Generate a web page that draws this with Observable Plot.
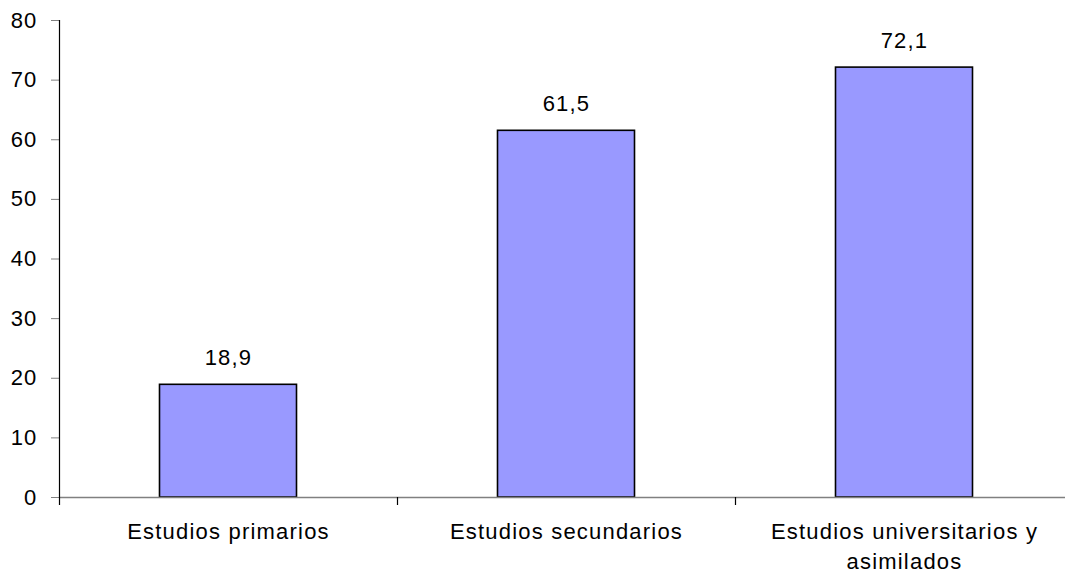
<!DOCTYPE html>
<html>
<head>
<meta charset="utf-8">
<script src="https://cdn.jsdelivr.net/npm/d3@7"></script>
<script src="https://cdn.jsdelivr.net/npm/@observablehq/plot@0.6"></script>
<style>
  html, body { margin: 0; padding: 0; background: #fff; overflow: hidden; }
  svg text { letter-spacing: 1.2px; }
</style>
</head>
<body>
<div id="chart"></div>
<script>
const categories = ["Estudios primarios", "Estudios secundarios", "Estudios universitarios y asimilados"];
const categoryLabels = ["Estudios primarios", "Estudios secundarios", "Estudios universitarios y\nasimilados"];
const values = [18.9, 61.5, 72.1];
const yTicks = [0, 10, 20, 30, 40, 50, 60, 70, 80];

const data = categories.map((c, i) => ({cat: c, label: categoryLabels[i], value: values[i]}));

const width = 1065, height = 574;
const xRange = [59, 1073];
const bw = (xRange[1] - xRange[0]) / categories.length;
const barInset = 100.5;

const chart = Plot.plot({
  width, height,
  marginLeft: 59, marginRight: 0, marginTop: 20, marginBottom: 77,
  style: {fontFamily: "Arial, 'Liberation Sans', sans-serif", fontSize: "22px", color: "#000", background: "#fff", overflow: "visible"},
  x: {type: "band", domain: categories, range: xRange, padding: 0, axis: null, label: null},
  y: {domain: [0, 80], axis: null, label: null},
  marks: [
    Plot.barY(data, {x: "cat", y: "value", fill: "#9999FF", stroke: "#000", strokeWidth: 1.6, insetLeft: barInset, insetRight: barInset}),
    Plot.ruleY([0], {stroke: "#808080", strokeWidth: 1.5}),
    Plot.axisY(yTicks, {label: null, tickSize: 8, tickPadding: 14, stroke: "#808080", fill: "#000", tickFormat: d => String(d), fontSize: 22}),
    Plot.ruleX([categories[0]], {x: d => d, dx: -bw / 2, y1: 80, y2: 0, insetBottom: -8, stroke: "#000", strokeWidth: 1.2}),
    Plot.ruleX(categories, {x: d => d, dx: bw / 2, y1: 0, y2: 0, insetBottom: -8, stroke: "#000", strokeWidth: 1.2}),
    Plot.text(data, {x: "cat", y: "value", text: d => d.value.toFixed(1).replace(".", ","), dy: -27, fontSize: 22, fill: "#000"}),
    Plot.text(data, {x: "cat", text: "label", frameAnchor: "bottom", lineAnchor: "top", dy: 20, lineHeight: 1.36, fontSize: 22, fill: "#000"})
  ]
});

document.getElementById("chart").appendChild(chart);
</script>
</body>
</html>
